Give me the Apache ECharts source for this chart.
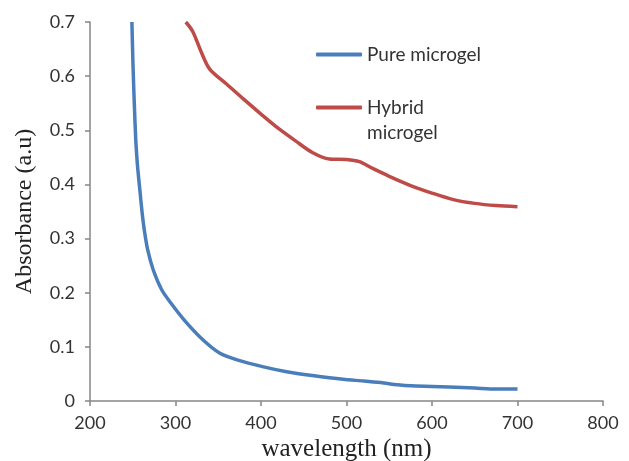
<!DOCTYPE html>
<html>
<head>
<meta charset="utf-8">
<script src="https://cdn.jsdelivr.net/npm/echarts@6/dist/echarts.min.js"></script>
<style>
  html, body { margin: 0; padding: 0; background: #fff; }
  #chart { width: 629px; height: 461px; }
</style>
</head>
<body>
<div id="chart"></div>
<script>
// UV-Vis absorbance spectra of the two microgels
const seriesNames = ['Pure microgel', 'Hybrid microgel'];

const pureWavelength = [249, 250.3, 251.8, 253.6, 255.8, 258.3, 260.8, 263.5, 267.5, 274, 284, 295, 311, 332, 352, 372, 403, 430, 460, 496, 520, 540, 560, 575, 600, 620, 650, 675, 700];
const pureAbsorbance = [0.70, 0.62, 0.55, 0.48, 0.43, 0.39, 0.35, 0.316, 0.279, 0.242, 0.205, 0.180, 0.148, 0.113, 0.088, 0.076, 0.063, 0.054, 0.047, 0.040, 0.037, 0.034, 0.030, 0.028, 0.027, 0.026, 0.024, 0.022, 0.022];

const hybridWavelength = [312, 320, 330, 340, 360, 380, 400, 420, 440, 460, 480, 500, 515, 530, 550, 575, 600, 625, 650, 675, 700];
const hybridAbsorbance = [0.70, 0.683, 0.645, 0.613, 0.585, 0.557, 0.530, 0.504, 0.481, 0.459, 0.447, 0.446, 0.442, 0.430, 0.415, 0.398, 0.384, 0.372, 0.365, 0.361, 0.359];

const xTicks = { min: 200, max: 800, interval: 100 };
const yTicks = { min: 0, max: 0.7, interval: 0.1 };

const zip = (xs, ys) => xs.map((x, i) => [x, ys[i]]);

const axisGray = '#878787';
const labelFont = 'Lato, "Open Sans", sans-serif';
const titleFont = '"Liberation Serif", "DejaVu Serif", serif';

const chart = echarts.init(document.getElementById('chart'), null, { renderer: 'canvas' });

const legendBase = {
  orient: 'vertical',
  left: 311,
  itemWidth: 46, itemHeight: 4, itemGap: 6,
  icon: 'roundRect',
  textStyle: { fontFamily: labelFont, fontSize: 19, color: '#333', lineHeight: 25 }
};

chart.setOption({
  animation: false,
  backgroundColor: '#ffffff',
  grid: { left: 90, right: 26, top: 22, bottom: 60, containLabel: false, outerBoundsMode: 'none' },
  legend: [
    Object.assign({}, legendBase, { data: [seriesNames[0]], top: 37 }),
    // empty first line keeps the icon level with "Hybrid"
    Object.assign({}, legendBase, {
      data: [seriesNames[1]], top: 65,
      formatter: () => '\nHybrid\nmicrogel'
    })
  ],
  xAxis: {
    type: 'value',
    min: xTicks.min, max: xTicks.max, interval: xTicks.interval,
    name: 'wavelength (nm)',
    nameLocation: 'middle',
    nameGap: 31,
    nameTextStyle: { fontFamily: titleFont, fontSize: 25, color: '#222' },
    axisLine: { lineStyle: { color: axisGray, width: 1.5 } },
    axisTick: { show: true, inside: false, length: 5, lineStyle: { color: axisGray, width: 1.5 } },
    axisLabel: { fontFamily: labelFont, fontSize: 18, color: '#333', margin: 13 },
    splitLine: { show: false }
  },
  yAxis: {
    type: 'value',
    min: yTicks.min, max: yTicks.max, interval: yTicks.interval,
    name: 'Absorbance (a.u)',
    nameLocation: 'middle',
    nameGap: 53,
    nameRotate: 90,
    nameTextStyle: { fontFamily: titleFont, fontSize: 24, color: '#222' },
    axisLine: { show: true, lineStyle: { color: axisGray, width: 1.5 } },
    axisTick: { show: true, inside: false, length: 5, lineStyle: { color: axisGray, width: 1.5 } },
    axisLabel: {
      fontFamily: labelFont, fontSize: 18, color: '#333', margin: 15,
      formatter: v => (v === 0 ? '0' : v.toFixed(1))
    },
    splitLine: { show: false }
  },
  series: [
    {
      name: seriesNames[0],
      type: 'line',
      data: zip(pureWavelength, pureAbsorbance),
      smooth: 0.25,
      showSymbol: false,
      clip: true,
      color: '#4A7EBB',
      lineStyle: { width: 3.5, color: '#4A7EBB' }
    },
    {
      name: seriesNames[1],
      type: 'line',
      data: zip(hybridWavelength, hybridAbsorbance),
      smooth: 0.3,
      showSymbol: false,
      clip: true,
      color: '#BE4B48',
      lineStyle: { width: 3.5, color: '#BE4B48' }
    }
  ]
});
</script>
</body>
</html>
